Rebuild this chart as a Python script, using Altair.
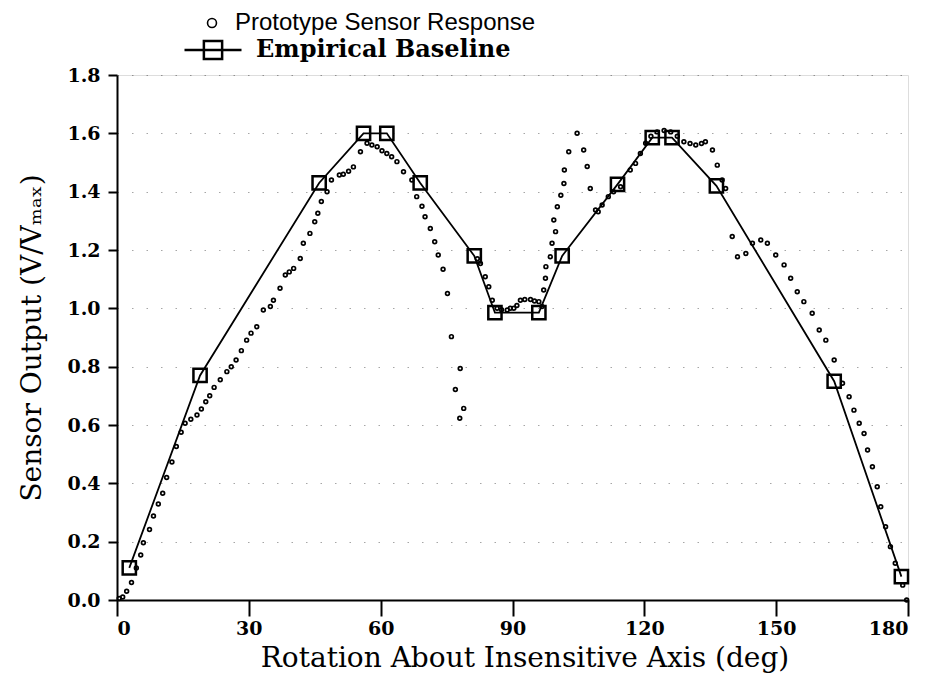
import altair as alt
import pandas as pd

proto_deg = [0.5, 1.3, 2.2, 3.3, 4.4, 5.4, 6.0, 7.4, 8.3, 9.4, 10.4, 11.3, 12.5, 13.5, 14.6, 15.5,
             16.8, 18.2, 19.2, 20.2, 21.1, 22.1, 23.5, 25.0, 26.0, 27.1, 28.3, 29.5, 30.5, 31.8,
             33.3, 34.9, 35.6, 37.1, 38.3, 39.2, 40.2, 41.7, 42.4, 43.9, 45.0, 45.7, 46.5, 47.8,
             48.8, 50.6, 51.5, 52.7, 53.8, 55.4, 56.9, 58.0, 59.2, 60.3, 61.4, 62.5, 63.7, 65.2,
             67.1, 68.2, 69.4, 70.1, 71.3, 72.3, 73.1, 74.2, 75.2, 76.1, 77.0, 78.1, 78.9, 78.0,
             82.0, 82.7, 83.8, 84.6, 85.4, 86.5, 87.5, 88.8, 89.5, 90.3, 91.0, 91.8, 92.8, 94.1,
             95.0, 96.0, 96.7, 97.1, 97.5, 97.6, 98.6, 99.0, 99.8, 99.4, 100.2, 101.0, 101.7, 101.8,
             102.8, 104.7, 106.2, 107.0, 107.7, 108.9, 109.5, 110.4, 111.8, 113.0, 114.6, 116.8,
             118.0, 119.1, 120.3, 121.5, 122.9, 124.5, 126.0, 127.5, 129.0, 130.4, 131.7, 133.0,
             133.9, 135.5, 136.6, 137.7, 138.5, 140.0, 141.2, 143.1, 144.6, 146.5, 148.0, 149.9,
             151.8, 153.3, 154.8, 156.3, 158.2, 159.8, 161.3, 163.2, 165.1, 166.6, 167.7, 168.9,
             170.0, 170.8, 171.9, 173.0, 173.8, 174.9, 176.0, 177.1, 178.8, 179.7]
proto_val = [0.005, 0.01, 0.03, 0.06, 0.11, 0.154, 0.196, 0.242, 0.288, 0.329, 0.366, 0.42, 0.473, 0.526, 0.575, 0.606,
             0.62, 0.634, 0.655, 0.68, 0.70, 0.729, 0.755, 0.783, 0.80, 0.823, 0.855, 0.891, 0.915, 0.937,
             0.994, 1.006, 1.028, 1.069, 1.114, 1.125, 1.137, 1.171, 1.223, 1.257, 1.297, 1.326, 1.366, 1.40,
             1.44, 1.457, 1.46, 1.47, 1.485, 1.537, 1.566, 1.56, 1.554, 1.54, 1.531, 1.52, 1.503, 1.468,
             1.44, 1.383, 1.35, 1.314, 1.274, 1.228, 1.183, 1.134, 1.051, 0.903, 0.722, 0.794, 0.657, 0.623,
             1.17, 1.154, 1.108, 1.074, 1.028, 1.0, 0.995, 0.994, 1.0, 1.0, 1.01, 1.028, 1.03, 1.03,
             1.025, 1.023, 1.006, 1.063, 1.103, 1.143, 1.177, 1.223, 1.263, 1.303, 1.348, 1.388, 1.428, 1.474,
             1.537, 1.60, 1.543, 1.486, 1.411, 1.337, 1.331, 1.354, 1.383, 1.40, 1.417, 1.474,
             1.497, 1.531, 1.566, 1.59, 1.605, 1.61, 1.605, 1.59, 1.571, 1.565, 1.56, 1.565,
             1.571, 1.543, 1.491, 1.44, 1.411, 1.246, 1.177, 1.188, 1.223, 1.234, 1.223, 1.183,
             1.149, 1.103, 1.057, 1.023, 0.983, 0.926, 0.891, 0.823, 0.743, 0.697, 0.651, 0.606,
             0.571, 0.514, 0.457, 0.388, 0.32, 0.251, 0.183, 0.126, 0.051, 0.0]

# Empirical baseline (squares joined by a line)
base_deg = [2.8, 18.9, 46.0, 56.1, 61.4, 69.0, 81.3, 86.0, 96.0, 101.3, 113.9, 121.8, 126.3, 136.4, 163.2, 178.5]
base_val = [0.11, 0.77, 1.43, 1.60, 1.60, 1.43, 1.18, 0.985, 0.985, 1.18, 1.425, 1.585, 1.585, 1.42, 0.75, 0.08]

x_major = [0, 30, 60, 90, 120, 150, 180]
y_ticks = [0.0, 0.2, 0.4, 0.6, 0.8, 1.0, 1.2, 1.4, 1.6, 1.8]

proto = pd.DataFrame({"deg": proto_deg, "val": proto_val, "series": "Prototype Sensor Response"})
base = pd.DataFrame({"deg": base_deg, "val": base_val, "series": "Empirical Baseline"})

PLOT_W, PLOT_H = 791, 525
xscale = alt.Scale(domain=[0, 180], nice=False, zero=False)
yscale = alt.Scale(domain=[0, 1.8], nice=False)

SERIF = "DejaVu Serif"

y_axis = alt.Axis(values=y_ticks, format=".1f", tickSize=9, tickWidth=2, tickColor="black",
                  domainColor="black", domainWidth=2, labelFont=SERIF, labelFontWeight="bold",
                  labelFontSize=19, labelColor="black", labelPadding=8,
                  title="Sensor Output (V/Vₘₐₓ)", titleFont=SERIF, titleFontSize=28,
                  titleFontWeight="normal", titleColor="#000000", titlePadding=20,
                  grid=True, gridColor="black", gridOpacity=0.35, gridDash=[1.5, 13], gridWidth=1)

x_axis = alt.Axis(values=x_major, format="d", orient="bottom", ticks=True, tickSize=16, tickWidth=2,
                  tickColor="black", tickOpacity=1, domainColor="black", domainWidth=2,
                  labelFont=SERIF, labelFontWeight="bold", labelFontSize=19, labelColor="black",
                  labelPadding=3,
                  title="Rotation About Insensitive Axis (deg)", titleFont=SERIF, titleFontSize=28,
                  titleFontWeight="normal", titleColor="#000000", titlePadding=6, titleX=PLOT_W / 2 + 12,
                  grid=False)

base_symbol = "M-1,0H1M-0.32,-0.32H0.32V0.32H-0.32Z"

proto_layer = alt.Chart(proto).mark_point(shape="circle", filled=False, size=14, strokeWidth=1.7,
                                          color="black", opacity=1).encode(
    x=alt.X("deg:Q", scale=xscale, axis=x_axis),
    y=alt.Y("val:Q", scale=yscale, axis=y_axis),
    shape=alt.Shape("series:N",
                    scale=alt.Scale(domain=["Prototype Sensor Response"], range=["circle"]),
                    legend=alt.Legend(title=None, orient="none", legendX=83, legendY=-64,
                                      labelFont="Liberation Sans", labelFontSize=24, labelColor="black",
                                      labelOffset=11, labelLimit=0, symbolType="circle", symbolSize=80,
                                      symbolStrokeColor="black", symbolStrokeWidth=1.6,
                                      symbolFillColor="transparent", symbolOpacity=1, padding=0)),
)

line_layer = alt.Chart(base).mark_line(color="black", strokeWidth=1.8).encode(
    x=alt.X("deg:Q", scale=xscale, axis=x_axis),
    y=alt.Y("val:Q", scale=yscale, axis=y_axis),
    color=alt.Color("series:N",
                    scale=alt.Scale(domain=["Empirical Baseline"], range=["black"]),
                    legend=alt.Legend(title=None, orient="none", legendX=66, legendY=-55,
                                      labelFont=SERIF, labelFontWeight="bold", labelFontSize=24,
                                      labelColor="black", labelOffset=13, labelLimit=0,
                                      symbolType=base_symbol, symbolSize=3249,
                                      symbolStrokeColor="black", symbolStrokeWidth=2.5,
                                      symbolFillColor="transparent", padding=0)),
)

square_layer = alt.Chart(base).mark_point(shape="square", filled=False, size=175, strokeWidth=2.5,
                                          color="black", opacity=1).encode(
    x=alt.X("deg:Q", scale=xscale, axis=x_axis),
    y=alt.Y("val:Q", scale=yscale, axis=y_axis),
)

chart = alt.layer(proto_layer, line_layer, square_layer).properties(
    width=PLOT_W, height=PLOT_H,
    autosize=alt.AutoSizeParams(type="none"),
    padding={"left": 109, "top": 67, "right": 18, "bottom": 80},
).configure_view(stroke=None).configure(background="white")

chart.save("out.html", embed_options={"renderer": "svg", "actions": False})
